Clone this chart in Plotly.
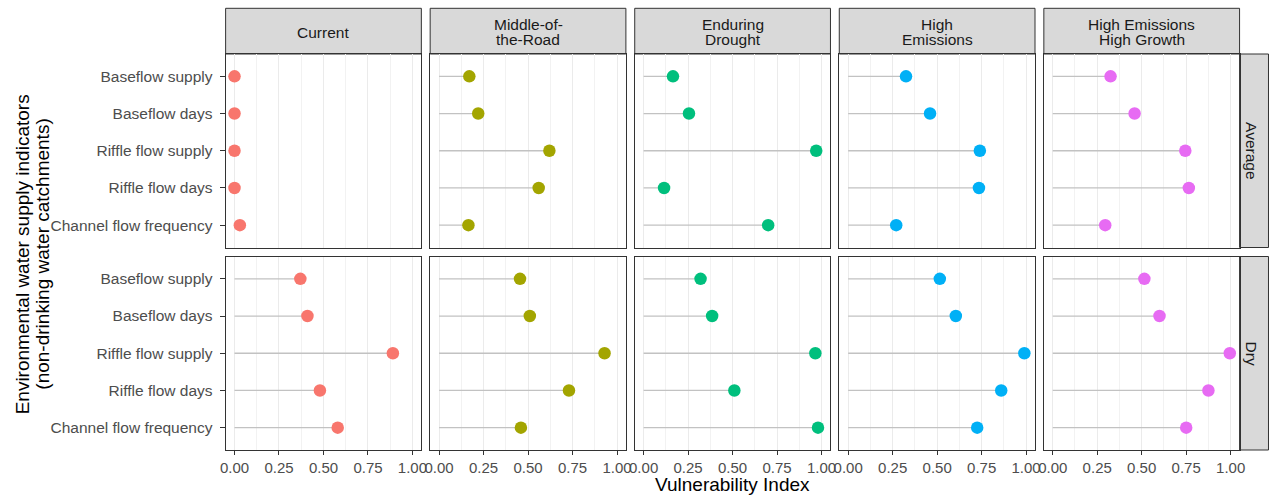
import plotly.graph_objects as go

# ---- data -------------------------------------------------------------
indicators = ["Baseflow supply", "Baseflow days", "Riffle flow supply",
              "Riffle flow days", "Channel flow frequency"]
scenarios = ["Current", "Middle-of-the-Road", "Enduring Drought",
             "High Emissions", "High Emissions High Growth"]
strip_lines = [["Current"], ["Middle-of-", "the-Road"], ["Enduring", "Drought"],
               ["High", "Emissions"], ["High Emissions", "High Growth"]]
conditions = ["Average", "Dry"]
scenario_colors = ["#F8766D", "#A3A500", "#00BF7D", "#00B0F6", "#E76BF3"]

current_average = [0.0, 0.0, 0.0, 0.0, 0.03]
current_dry = [0.37, 0.41, 0.89, 0.48, 0.58]
motr_average = [0.17, 0.22, 0.62, 0.56, 0.165]
motr_dry = [0.455, 0.51, 0.93, 0.73, 0.46]
drought_average = [0.165, 0.255, 0.97, 0.115, 0.70]
drought_dry = [0.32, 0.385, 0.965, 0.51, 0.98]
high_em_average = [0.325, 0.46, 0.74, 0.735, 0.27]
high_em_dry = [0.515, 0.605, 0.99, 0.86, 0.725]
high_em_growth_average = [0.325, 0.46, 0.745, 0.765, 0.295]
high_em_growth_dry = [0.515, 0.60, 0.995, 0.875, 0.75]

values = {
    ("Average", 0): current_average, ("Dry", 0): current_dry,
    ("Average", 1): motr_average, ("Dry", 1): motr_dry,
    ("Average", 2): drought_average, ("Dry", 2): drought_dry,
    ("Average", 3): high_em_average, ("Dry", 3): high_em_dry,
    ("Average", 4): high_em_growth_average, ("Dry", 4): high_em_growth_dry,
}

x_ticks = [0, 0.25, 0.5, 0.75, 1.0]

# ---- geometry (pixels) ------------------------------------------------
W, H = 1274, 497
FONT = "Arial, 'Liberation Sans', sans-serif"
col_left = [221.7, 428.2, 634.7, 841.2, 1047.7]
panel_w = 197.6
row_top = [54.0, 256.5]
panel_h = 193.5
strip_top = 8.3
strip_right = 1274.5
BORDER = "#333333"
STRIP_FILL = "#D9D9D9"


def px_x(p):
    return p / W


def px_y(p):
    return 1 - p / H


fig = go.Figure()
layout = dict(
    width=W, height=H,
    margin=dict(l=0, r=0, t=0, b=0),
    paper_bgcolor="white", plot_bgcolor="white",
    showlegend=False,
    font=dict(family=FONT),
)
shapes = []
annotations = []

for r, cond in enumerate(conditions):
    for c in range(len(scenarios)):
        k = r * len(scenarios) + c + 1
        xa = "x" if k == 1 else f"x{k}"
        ya = "y" if k == 1 else f"y{k}"
        xkey = "xaxis" if k == 1 else f"xaxis{k}"
        ykey = "yaxis" if k == 1 else f"yaxis{k}"

        vals = values[(cond, c)]
        seg_x, seg_y = [], []
        for name, v in zip(indicators, vals):
            seg_x += [0, v, None]
            seg_y += [name, name, None]
        fig.add_trace(go.Scatter(
            x=seg_x, y=seg_y, mode="lines", xaxis=xa, yaxis=ya,
            line=dict(color="#C2C2C2", width=1.3), hoverinfo="skip"))
        fig.add_trace(go.Scatter(
            x=vals, y=indicators, mode="markers", xaxis=xa, yaxis=ya,
            marker=dict(color=scenario_colors[c], size=12.5, line=dict(width=0)),
            name=scenarios[c], cliponaxis=False))

        x0, x1 = col_left[c], col_left[c] + panel_w
        y0, y1 = row_top[r], row_top[r] + panel_h
        bottom = r == len(conditions) - 1
        layout[xkey] = dict(
            domain=[px_x(x0), px_x(x1)], anchor=ya,
            range=[-0.05, 1.05], tickvals=x_ticks, tickformat=".2f",
            showgrid=True, gridcolor="#EBEBEB", gridwidth=1,
            minor=dict(dtick=0.125, tick0=0.125, showgrid=True,
                       gridcolor="#F2F2F2", gridwidth=1),
            zeroline=False,
            showline=True, mirror=True, linecolor=BORDER, linewidth=1,
            ticks="outside" if bottom else "", ticklen=4, tickwidth=1,
            tickcolor=BORDER, showticklabels=bottom,
            tickfont=dict(family=FONT, size=15, color="#4D4D4D"),
        )
        first = c == 0
        layout[ykey] = dict(
            domain=[px_y(y1), px_y(y0)], anchor=xa,
            type="category", categoryorder="array", categoryarray=indicators,
            range=[4.6, -0.6], showgrid=False, zeroline=False,
            showline=True, mirror=True, linecolor=BORDER, linewidth=1,
            ticks="outside" if first else "", ticklen=5, tickwidth=1,
            tickcolor=BORDER, showticklabels=first, ticklabelstandoff=4,
            tickfont=dict(family=FONT, size=15.5, color="#4D4D4D"),
        )

# column strips
for c, lines in enumerate(strip_lines):
    x0, x1 = col_left[c], col_left[c] + panel_w
    shapes.append(dict(type="rect", xref="paper", yref="paper",
                       x0=px_x(x0), x1=px_x(x1), y0=px_y(row_top[0]), y1=px_y(strip_top),
                       fillcolor=STRIP_FILL, line=dict(color=BORDER, width=1), layer="below"))
    mid = (strip_top + row_top[0]) / 2
    if len(lines) == 1:
        ys = [mid + 1]
    else:
        ys = [mid - 6.5, mid + 8]
    for text, yy in zip(lines, ys):
        annotations.append(dict(text=text, xref="paper", yref="paper",
                                x=px_x((x0 + x1) / 2), y=px_y(yy),
                                xanchor="center", yanchor="middle", showarrow=False,
                                font=dict(family=FONT, size=15.5, color="#1A1A1A")))

# row strips
right_x0 = col_left[-1] + panel_w
for r, cond in enumerate(conditions):
    y0, y1 = row_top[r], row_top[r] + panel_h
    shapes.append(dict(type="rect", xref="paper", yref="paper",
                       x0=px_x(right_x0), x1=px_x(strip_right), y0=px_y(y1), y1=px_y(y0),
                       fillcolor=STRIP_FILL, line=dict(color=BORDER, width=1), layer="below"))
    annotations.append(dict(text=cond, xref="paper", yref="paper",
                            x=px_x(1257.5), y=px_y((y0 + y1) / 2),
                            xanchor="center", yanchor="middle", showarrow=False,
                            textangle=90,
                            font=dict(family=FONT, size=15.5, color="#1A1A1A")))

# axis titles
annotations.append(dict(text="Vulnerability Index", xref="paper", yref="paper",
                        x=px_x((col_left[0] + right_x0) / 2), y=0,
                        xanchor="center", yanchor="bottom", showarrow=False,
                        font=dict(family=FONT, size=19, color="#000000")))
annotations.append(dict(text="Environmental water supply indicators", xref="paper", yref="paper",
                        x=px_x(16.5), y=px_y(254), xanchor="center", yanchor="middle",
                        showarrow=False, textangle=-90,
                        font=dict(family=FONT, size=19, color="#000000")))
annotations.append(dict(text="(non-drinking water catchments)", xref="paper", yref="paper",
                        x=px_x(36), y=px_y(254), xanchor="center", yanchor="middle",
                        showarrow=False, textangle=-90,
                        font=dict(family=FONT, size=19, color="#000000")))

layout["shapes"] = shapes
layout["annotations"] = annotations
fig.update_layout(**layout)
fig.write_html("out.html")
